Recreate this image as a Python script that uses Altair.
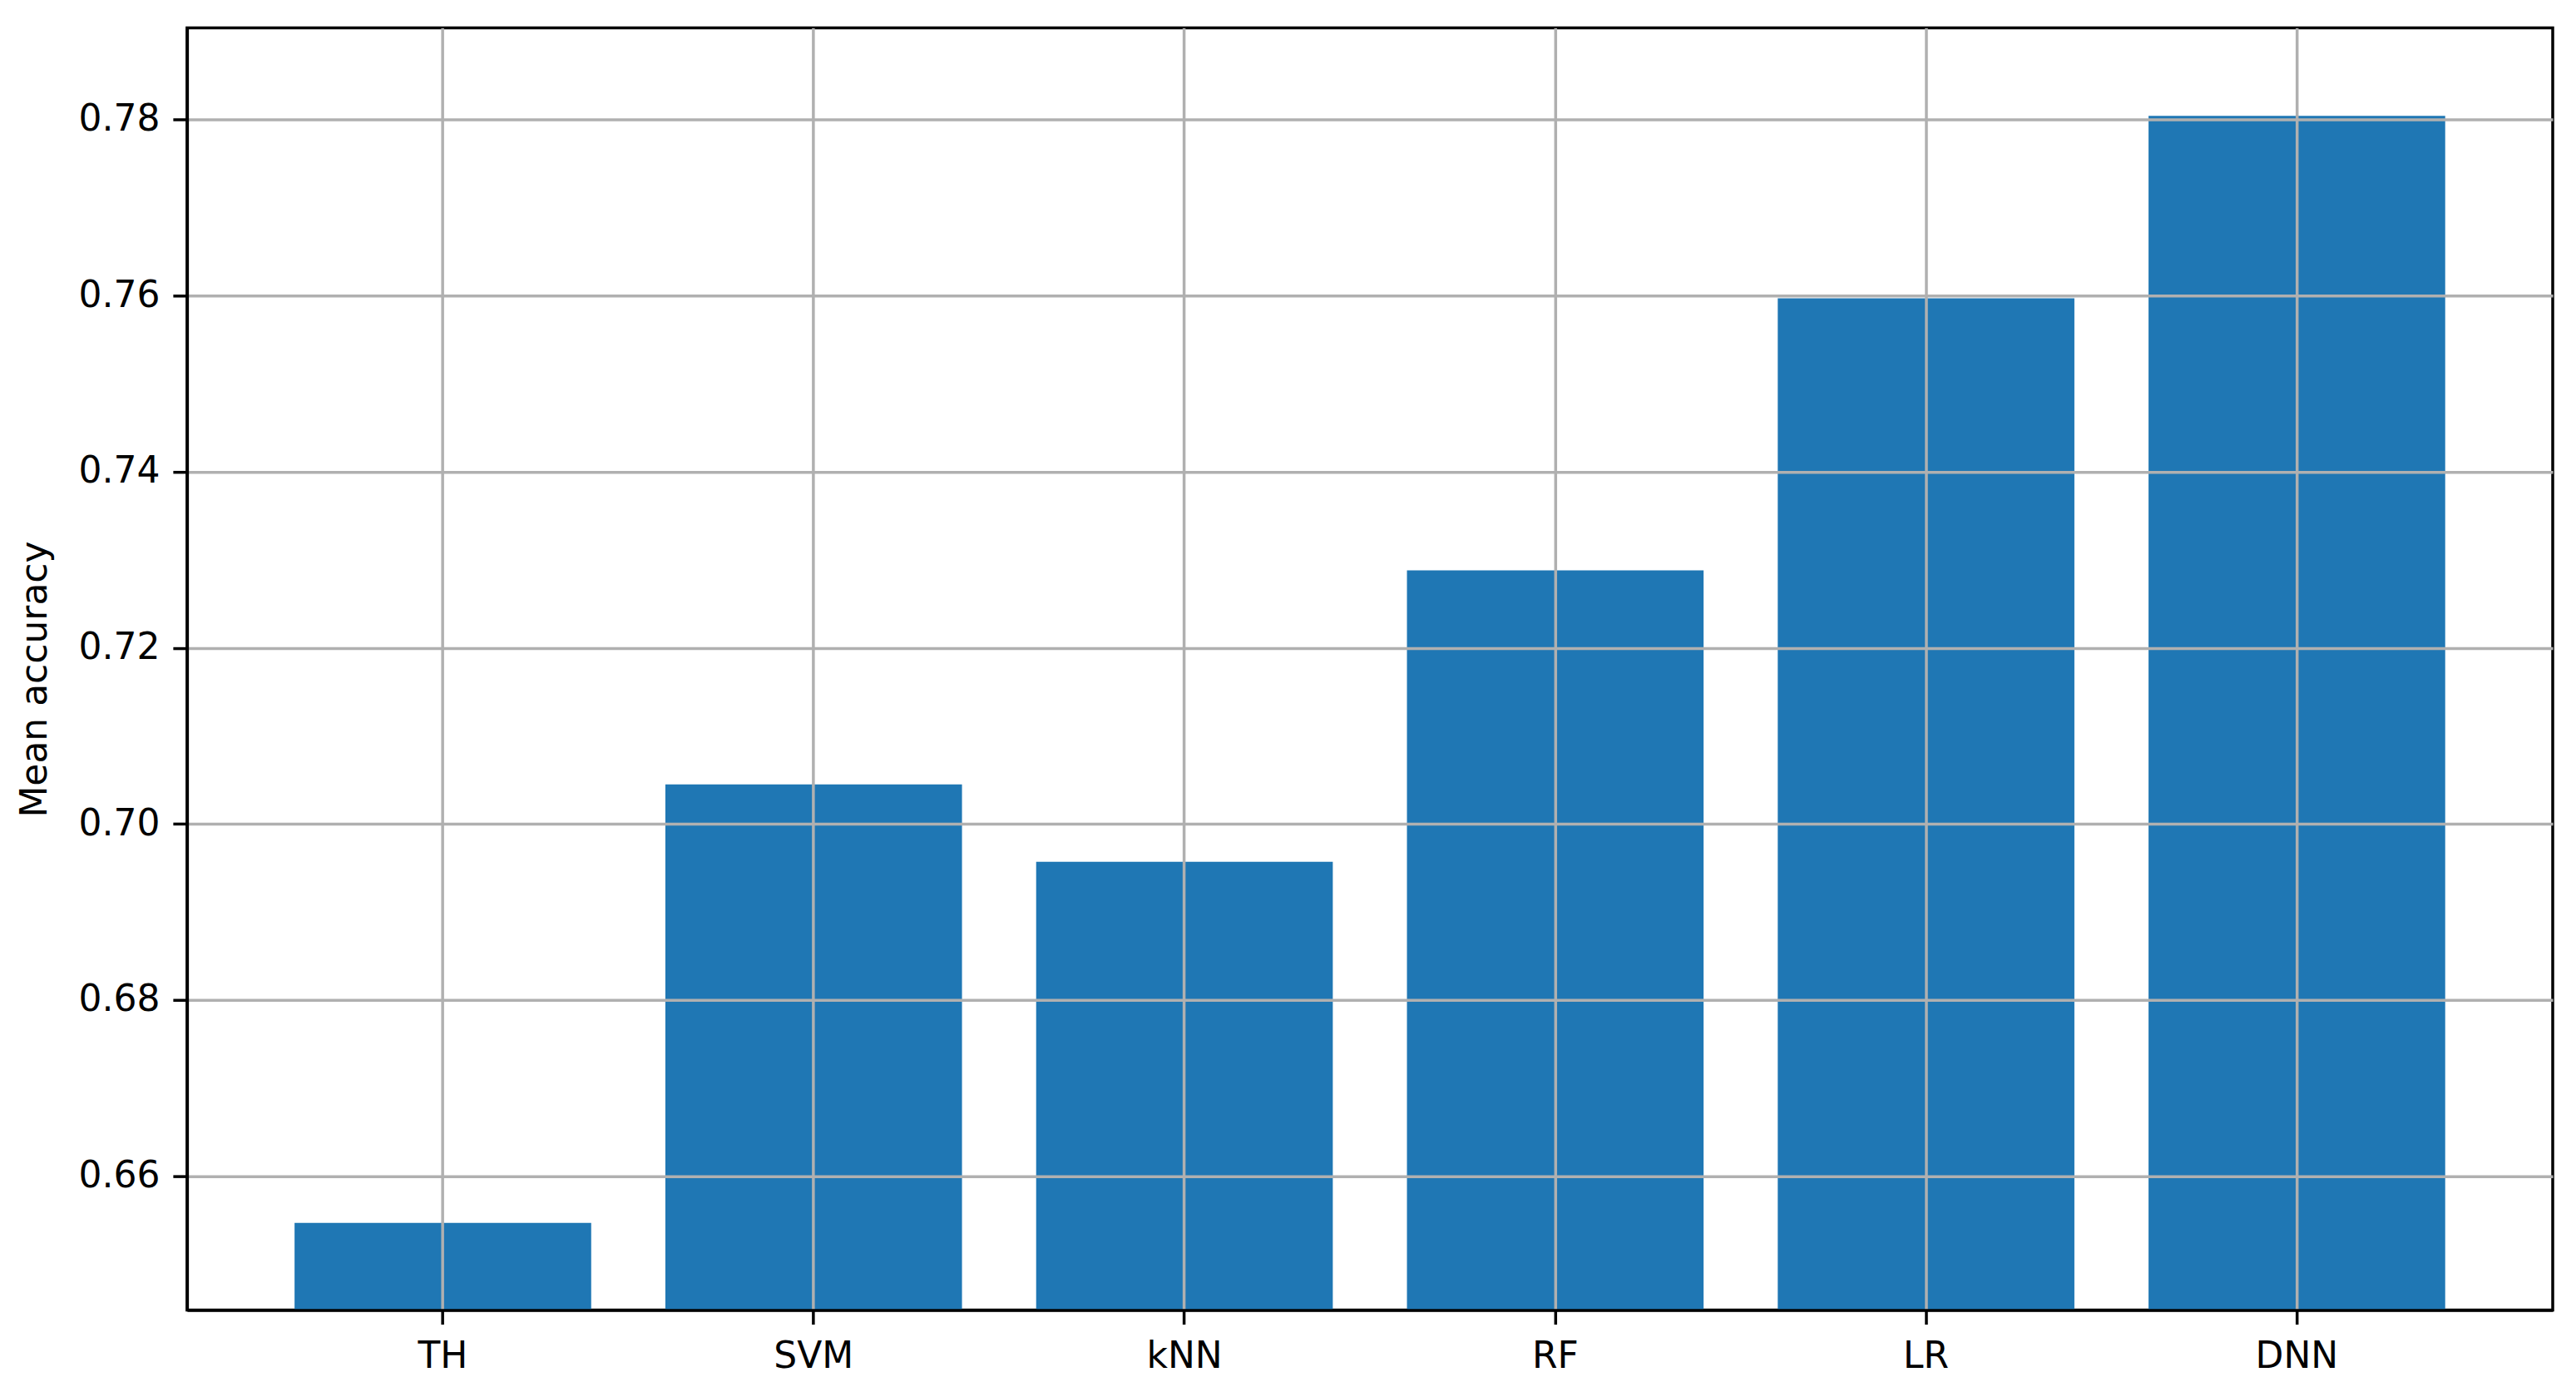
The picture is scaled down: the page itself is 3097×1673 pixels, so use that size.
import altair as alt
import pandas as pd

models = ["TH", "SVM", "kNN", "RF", "LR", "DNN"]
accuracy = [0.6547, 0.7045, 0.6957, 0.7288, 0.7597, 0.7804]
y_ticks = [0.66, 0.68, 0.70, 0.72, 0.74, 0.76, 0.78]
y_domain = [0.6448, 0.7904]

df = pd.DataFrame({"model": models, "accuracy": accuracy})

W, H = 2846, 1542
FONT = "DejaVu Sans"

chart = alt.Chart(df).mark_bar(color="#1f77b4", clip=True).encode(
    x=alt.X(
        "model:N",
        sort=None,
        title=None,
        scale=alt.Scale(paddingInner=0.2, paddingOuter=0.29),
        axis=alt.Axis(
            labelAngle=0,
            bandPosition=0.5,
            labelFont=FONT,
            labelFontSize=44,
            labelColor="black",
            labelPadding=17,
            tickSize=17,
            tickWidth=3.5,
            tickColor="black",
            domainColor="black",
            domainWidth=3.5,
            grid=True,
            gridColor="#b0b0b0",
            gridWidth=3.5,
            zindex=1,
        ),
    ),
    y=alt.Y(
        "accuracy:Q",
        scale=alt.Scale(domain=y_domain, zero=False, nice=False),
        axis=alt.Axis(
            title="Mean accuracy",
            values=y_ticks,
            format=".2f",
            labelFont=FONT,
            labelFontSize=44,
            labelColor="black",
            labelPadding=16,
            tickSize=17,
            tickWidth=3.5,
            tickColor="black",
            domainColor="black",
            domainWidth=3.5,
            grid=True,
            gridColor="#b0b0b0",
            gridWidth=3.5,
            titleFont=FONT,
            titleFontSize=44,
            titleFontWeight="normal",
            titleColor="black",
            titleAngle=270,
            titleAlign="center",
            titleBaseline="alphabetic",
            titleX=-169,
            titleY=783,
            zindex=1,
        ),
    ),
).properties(
    width=W,
    height=H,
    autosize=alt.AutoSizeParams(type="none"),
    padding={"left": 217, "top": 25, "right": 20, "bottom": 100},
).configure(
    background="white"
).configure_view(
    stroke="black",
    strokeWidth=3.5,
)

chart.save("out.html", embed_options={"renderer": "svg", "actions": False})
